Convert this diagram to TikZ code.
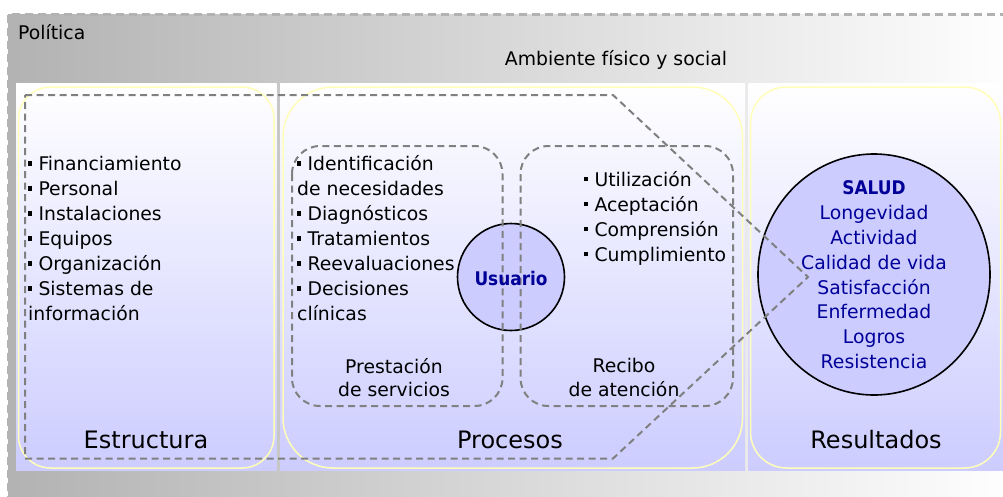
\documentclass[tikz,border=0pt]{standalone}
\usepackage{fontspec}
\setmainfont{DejaVu Sans}
\newfontfamily\condfont{DejaVu Sans Condensed}
\usetikzlibrary{shapes.geometric}
\definecolor{lav}{RGB}{204,204,255}
\definecolor{deepblue}{RGB}{0,0,153}
\definecolor{paleyellow}{RGB}{255,255,185}
\newcommand{\bul}{\rule[0.27em]{0.22em}{0.22em}\hspace{0.33em}}
\begin{document}
\begin{tikzpicture}[x=1pt,y=-1pt,
    panel/.style={top color=white, bottom color=lav, draw=none},
    frame/.style={draw=paleyellow, line width=1.5pt},
    zone/.style={draw=black!50, line width=2pt, dash pattern=on 7pt off 4.5pt},
    txt/.style={inner sep=0pt, font=\fontsize{18.8}{25}\selectfont},
    title/.style={inner sep=0pt, font=\fontsize{24}{28}\selectfont},
    bubble/.style={draw, line width=1.6pt, fill=lav}]
  \useasboundingbox (0,0) rectangle (1003,496);
  \path[left color=black!30, right color=white, draw=black!30, line width=2.5pt,
        dash pattern=on 8pt off 5pt] (8,14.5) rectangle (1020,510);
  \path[panel] (16,83.5) rectangle (276.5,470.5);
  \path[panel] (280,83.5) rectangle (745,470.5);
  \path[panel] (748.5,83.5) rectangle (1010,470.5);
  \draw[frame, rounded corners=32pt] (18.5,87) rectangle (274,468);
  \draw[frame, rounded corners=50pt] (283,87) rectangle (742.5,468);
  \draw[frame, rounded corners=36pt] (750.5,87) rectangle (1000.5,468);
  \node[bubble, circle, minimum size=107pt] (usuario) at (511,277) {};
  \node[bubble, ellipse, minimum width=232pt, minimum height=241pt] (salud) at (874,274.5) {};
  \draw[zone] (25,95) -- (613,95) -- (808,277) -- (613,458.5) -- (25,458.5) -- cycle;
  \draw[zone, rounded corners=28pt] (292,146) rectangle (502.5,406);
  \draw[zone, rounded corners=28pt] (520.5,146) rectangle (733,406);
  \node[txt, anchor=base west] (politica) at (18,39) {Política};
  \node[txt, anchor=base] (ambiente) at (616,65) {Ambiente físico y social};
  \node[txt, anchor=base west, align=left] (recursos) at (28,320.7)
    {\bul Financiamiento\\\bul Personal\\\bul Instalaciones\\\bul Equipos\\
     \bul Organización\\\bul Sistemas de\\información};
  \node[txt, anchor=base west, align=left] (servicios) at (297,320.7)
    {\bul Identificación\\de necesidades\\\bul Diagnósticos\\\bul Tratamientos\\
     \bul Reevaluaciones\\\bul Decisiones\\clínicas};
  \node[txt, anchor=base west, align=left] (atencion) at (584,261.4)
    {\bul Utilización\\\bul Aceptación\\\bul Comprensión\\\bul Cumplimiento};
  \node[txt, anchor=base, align=center, font=\fontsize{18.8}{23.5}\selectfont]
    (prestacion) at (394,396.8) {Prestación\\de servicios};
  \node[txt, anchor=base, align=center, font=\fontsize{18.8}{23.5}\selectfont]
    (recibo) at (624,396.2) {Recibo\\de atención};
  \node[txt, anchor=base, text=deepblue, font=\fontsize{18.8}{25}\condfont\bfseries]
    at (usuario.center |- 0,285) {Usuario};
  \node[txt, anchor=base, align=center, text=deepblue, font=\fontsize{18.8}{24.8}\selectfont]
    (logros) at (874,368.5) {{\condfont\bfseries SALUD}\\Longevidad\\Actividad\\Calidad de vida\\
     Satisfacción\\Enfermedad\\Logros\\Resistencia};
  \node[title, anchor=base] (estructura) at (146,448.3) {Estructura};
  \node[title, anchor=base] (procesos) at (510,448.3) {Procesos};
  \node[title, anchor=base] (resultados) at (876,448.3) {Resultados};
\end{tikzpicture}
\end{document}
